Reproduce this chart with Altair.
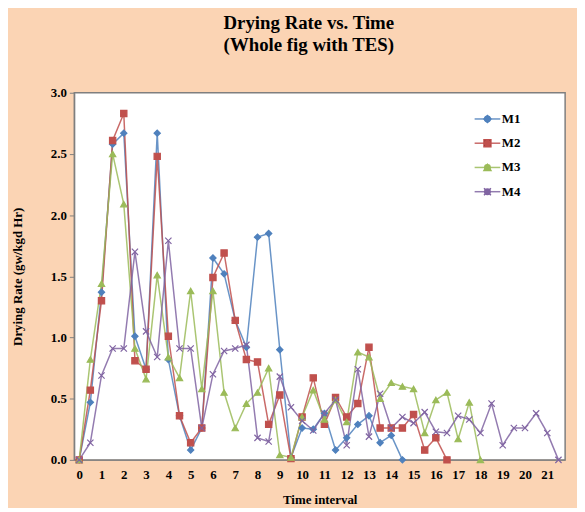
import altair as alt
import pandas as pd

series_names = ["M1", "M2", "M3", "M4"]
m1 = [0, 0.47, 1.37, 2.58, 2.67, 1.01, 0.74, 2.67, 0.82, 0.36, 0.08, 0.26, 1.65, 1.52, 1.14,
      0.92, 1.82, 1.85, 0.90, 0.02, 0.26, 0.25, 0.38, 0.08, 0.18, 0.29, 0.36, 0.14, 0.20, 0.00]
m2 = [0, 0.57, 1.30, 2.61, 2.83, 0.81, 0.74, 2.48, 1.01, 0.36, 0.14, 0.26, 1.49, 1.69, 1.14,
      0.82, 0.80, 0.29, 0.53, 0.01, 0.35, 0.67, 0.29, 0.51, 0.35, 0.46, 0.92, 0.26, 0.26, 0.26,
      0.37, 0.08, 0.18, 0.00]
m3 = [0, 0.82, 1.44, 2.50, 2.09, 0.91, 0.66, 1.51, 0.84, 0.67, 1.38, 0.58, 1.38, 0.55, 0.26,
      0.46, 0.55, 0.75, 0.04, 0.02, 0.35, 0.57, 0.33, 0.49, 0.31, 0.88, 0.84, 0.50, 0.63, 0.60,
      0.58, 0.22, 0.49, 0.55, 0.17, 0.47, 0.00]
m4 = [0, 0.14, 0.69, 0.91, 0.91, 1.70, 1.05, 0.84, 1.79, 0.91, 0.91, 0.26, 0.70, 0.89, 0.91,
      0.94, 0.18, 0.15, 0.68, 0.43, 0.32, 0.24, 0.38, 0.49, 0.12, 0.74, 0.19, 0.54, 0.26, 0.35,
      0.30, 0.39, 0.23, 0.22, 0.36, 0.33, 0.22, 0.46, 0.12, 0.26, 0.26, 0.38, 0.22, 0.00]
time_step = 0.5
colors = ["#4F81BD", "#C0504D", "#9BBB59", "#8064A2"]
shapes = ["diamond", "square", "triangle-up", "M-1,-1L1,1M-1,1L1,-1"]
x_ticks = list(range(22))
y_ticks = [0, 0.5, 1.0, 1.5, 2.0, 2.5, 3.0]

rows = []
for name, vals in zip(series_names, [m1, m2, m3, m4]):
    for i, v in enumerate(vals):
        rows.append({"series": name, "time": i * time_step, "rate": v})
df = pd.DataFrame(rows)

serif = "Liberation Serif"

x = alt.X("time:Q",
          scale=alt.Scale(domain=[-0.22, 21.8], nice=False, zero=False),
          axis=alt.Axis(values=x_ticks, title="Time interval", grid=False,
                        labelFlush=False, tickSize=0, labelPadding=9, titlePadding=12))
y = alt.Y("rate:Q",
          scale=alt.Scale(domain=[0, 3], nice=False),
          axis=alt.Axis(values=y_ticks, format=".1f", title="Drying Rate (gw/kgd Hr)",
                        grid=False, tickSize=5, labelPadding=3, titlePadding=26))

color_scale = alt.Scale(domain=series_names, range=colors)
shape_scale = alt.Scale(domain=series_names, range=shapes)

leg_common = dict(orient="none", title=None, labelFont=serif, labelFontWeight="bold",
                  labelFontSize=13, rowPadding=10.5, labelColor="#000000",
                  symbolSize=49, symbolStrokeWidth=1.5, legendY=20)

line_legend = alt.Legend(legendX=411, symbolType="M-3.7,0H3.7", labelOffset=8, **leg_common)
point_legend = alt.Legend(legendX=411, labelOpacity=0, labelOffset=8, **leg_common)

base = alt.Chart(df)

lines = base.mark_line(strokeWidth=1.5, opacity=0.85).encode(
    x=x, y=y,
    color=alt.Color("series:N", scale=color_scale, legend=line_legend),
    order="time:Q",
)

points = base.mark_point(filled=True, size=40, strokeWidth=1.2, opacity=1).encode(
    x=x, y=y,
    color=alt.Color("series:N", scale=color_scale, legend=point_legend),
    shape=alt.Shape("series:N", scale=shape_scale, legend=point_legend),
    stroke=alt.Stroke("series:N", scale=color_scale, legend=point_legend),
)

chart = alt.layer(lines, points).resolve_legend(
    color="independent"
).properties(
    width=496, height=371,
    autosize=alt.AutoSizeParams(type="none"),
    padding={"left": 67, "top": 83, "right": 12, "bottom": 46},
    background="#FBD4B4",
    title=alt.Title(["Drying Rate vs. Time", "(Whole fig with TES)"],
                    font=serif, fontSize=19, fontWeight="bold", color="#000000",
                    anchor="middle", dx=-11, offset=32, lineHeight=22),
).configure_view(
    fill="#FFFFFF", stroke="#7F7F7F", strokeWidth=1.5
).configure_axis(
    labelFont=serif, labelFontWeight="bold", labelFontSize=13, labelColor="#000000",
    titleFont=serif, titleFontWeight="bold", titleFontSize=13, titleColor="#000000",
    domainColor="#7F7F7F", tickColor="#7F7F7F"
)

chart.save("out.html", embed_options={"renderer": "svg", "actions": False})
